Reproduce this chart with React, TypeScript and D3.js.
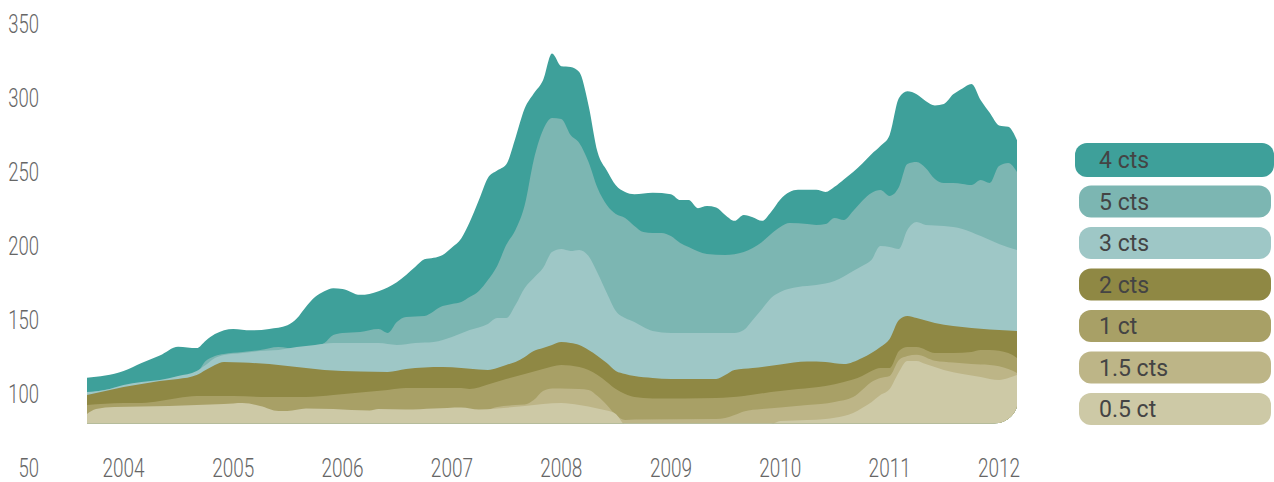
import React, { useEffect, useRef } from 'react';
import * as d3 from 'd3';

// axis labels
const yTickValues = [50, 100, 150, 200, 250, 300, 350];
const yearLabels = [2004, 2005, 2006, 2007, 2008, 2009, 2010, 2011, 2012];

// legend order = drawing order (back to front)
const seriesNames = ['4 cts', '5 cts', '3 cts', '2 cts', '1 ct', '1.5 cts', '0.5 ct'];
const seriesColors = ['#3ea09a', '#7cb6b2', '#9ec7c6', '#8f8844', '#a8a066', '#bdb587', '#cdc9a6'];

const cts4 = [
  ['2003-09', 111], ['2004-01', 115.5], ['2004-03', 121], ['2004-05', 126], ['2004-07', 132], ['2004-09', 131],
  ['2004-10', 136], ['2004-11', 140.5], ['2005-01', 144], ['2005-03', 143], ['2005-05', 144], ['2005-07', 146.5],
  ['2005-08', 151], ['2005-09', 159], ['2005-10', 165.5], ['2005-11', 169.5], ['2005-12', 171.5], ['2006-01', 171],
  ['2006-03', 167], ['2006-05', 169.5], ['2006-07', 175.5], ['2006-09', 186], ['2006-10', 191], ['2006-11', 192],
  ['2006-12', 194], ['2007-01', 199], ['2007-02', 205], ['2007-03', 216], ['2007-04', 231], ['2007-05', 246],
  ['2007-06', 251], ['2007-07', 255], ['2007-08', 273], ['2007-09', 293], ['2007-10', 303], ['2007-11', 312],
  ['2007-12', 330], ['2008-01', 321.5], ['2008-02', 321], ['2008-03', 317.5], ['2008-04', 295], ['2008-05', 263.5],
  ['2008-06', 251], ['2008-07', 241], ['2008-08', 236.5], ['2008-09', 235], ['2008-11', 236], ['2009-01', 235],
  ['2009-02', 231], ['2009-03', 231], ['2009-04', 225.5], ['2009-05', 227], ['2009-06', 226], ['2009-07', 221],
  ['2009-08', 217], ['2009-09', 221], ['2009-10', 219.5], ['2009-11', 217], ['2009-12', 223], ['2010-01', 231.5],
  ['2010-02', 236.5], ['2010-03', 238], ['2010-05', 238], ['2010-06', 236.5], ['2010-07', 240], ['2010-08', 245],
  ['2010-09', 250], ['2010-10', 255.5], ['2010-11', 262], ['2010-12', 267.5], ['2011-01', 275], ['2011-02', 300],
  ['2011-03', 304.5], ['2011-04', 302.5], ['2011-05', 298], ['2011-06', 295], ['2011-07', 296], ['2011-08', 302.5],
  ['2011-09', 306.5], ['2011-10', 309.5], ['2011-11', 298.5], ['2011-12', 290], ['2012-01', 281.5], ['2012-02', 280.5],
  ['2012-03', 271.5],
];

const cts5 = [
  ['2003-09', 100.5], ['2004-01', 105], ['2004-05', 108.5], ['2004-09', 114.5], ['2004-10', 122.3], ['2004-11', 125.7],
  ['2004-12', 127], ['2005-02', 128.4], ['2005-04', 129.7], ['2005-06', 131.7], ['2005-07', 131.1], ['2005-08', 130.4],
  ['2005-10', 132.4], ['2005-11', 134.4], ['2005-12', 139.8], ['2006-01', 141.2], ['2006-03', 141.9], ['2006-05', 143.9],
  ['2006-06', 141.2], ['2006-07', 148.6], ['2006-08', 152], ['2006-10', 152.7], ['2006-12', 159.4], ['2007-01', 160.8],
  ['2007-02', 162.1], ['2007-03', 165.5], ['2007-04', 169.6], ['2007-05', 177], ['2007-06', 186.5], ['2007-07', 200.6],
  ['2007-08', 210.8], ['2007-09', 227.7], ['2007-10', 258.1], ['2007-11', 278.4], ['2007-12', 286.5], ['2008-01', 285.8],
  ['2008-02', 275], ['2008-03', 269.6], ['2008-04', 256.7], ['2008-05', 239.2], ['2008-06', 227.7], ['2008-07', 221.6],
  ['2008-08', 218.9], ['2008-09', 213.5], ['2008-10', 209.4], ['2008-11', 208.8], ['2008-12', 208.8], ['2009-01', 206.7],
  ['2009-02', 202], ['2009-03', 199.3], ['2009-05', 194.6], ['2009-07', 193.9], ['2009-09', 195.9], ['2009-10', 198.6],
  ['2009-11', 202.7], ['2009-12', 208.1], ['2010-01', 212.8], ['2010-02', 215.5], ['2010-04', 214.8], ['2010-05', 214.2],
  ['2010-06', 214.8], ['2010-07', 218.9], ['2010-08', 217.5], ['2010-09', 223.6], ['2010-10', 230.4], ['2010-11', 235.8],
  ['2010-12', 237.8], ['2011-01', 233.8], ['2011-02', 239.8], ['2011-03', 255.4], ['2011-04', 256.7], ['2011-05', 252.7],
  ['2011-06', 245.2], ['2011-07', 242.5], ['2011-08', 242.5], ['2011-09', 241.9], ['2011-10', 241.2], ['2011-11', 244.6],
  ['2011-12', 242.5], ['2012-01', 254], ['2012-02', 256.1], ['2012-03', 250],
];

const cts3 = [
  ['2003-09', 101.3], ['2003-11', 102.7], ['2004-01', 106.1], ['2004-03', 108.1], ['2004-05', 109.4], ['2004-07', 112.1],
  ['2004-09', 115.5], ['2004-10', 119.6], ['2004-11', 124.3], ['2004-12', 126.3], ['2005-02', 127.7], ['2005-04', 129],
  ['2005-06', 129.7], ['2005-08', 131.7], ['2005-10', 133.1], ['2005-12', 134.4], ['2006-03', 134.4], ['2006-05', 134.4],
  ['2006-07', 133.1], ['2006-09', 134.4], ['2006-11', 135.1], ['2007-01', 138.5], ['2007-03', 143.2], ['2007-05', 147.3],
  ['2007-06', 151.3], ['2007-07', 151.3], ['2007-08', 160.1], ['2007-09', 171.6], ['2007-10', 178.4], ['2007-11', 185.1],
  ['2007-12', 195.9], ['2008-01', 197.9], ['2008-02', 196.6], ['2008-03', 197.3], ['2008-04', 193.2], ['2008-05', 181.7],
  ['2008-06', 168.2], ['2008-07', 156.1], ['2008-08', 151.3], ['2008-09', 148.6], ['2008-10', 145.2], ['2008-11', 142.5],
  ['2009-01', 141.2], ['2009-05', 141.2], ['2009-08', 141.2], ['2009-09', 143.2], ['2009-10', 150], ['2009-11', 157.4],
  ['2009-12', 164.8], ['2010-01', 168.9], ['2010-03', 172.3], ['2010-05', 173.6], ['2010-07', 176.3], ['2010-09', 183.1],
  ['2010-10', 186.5], ['2010-11', 190.5], ['2010-12', 200], ['2011-01', 199.3], ['2011-02', 198], ['2011-03', 210.8],
  ['2011-04', 216.2], ['2011-05', 214.2], ['2011-07', 213.5], ['2011-09', 211.5], ['2011-11', 206.7], ['2012-01', 201.3],
  ['2012-03', 197.3],
];

const cts2 = [
  ['2003-09', 99.3], ['2003-11', 102], ['2004-01', 104.7], ['2004-03', 106.7], ['2004-05', 108.8], ['2004-07', 110.1],
  ['2004-09', 112.8], ['2004-10', 116.2], ['2004-11', 119.6], ['2004-12', 121.6], ['2005-02', 121.3], ['2005-05', 120.2],
  ['2005-08', 118.2], ['2005-11', 116.2], ['2006-03', 115.2], ['2006-06', 114.9], ['2006-08', 116.9], ['2006-10', 117.9],
  ['2006-12', 118.2], ['2007-02', 117.5], ['2007-04', 116.5], ['2007-05', 116.2], ['2007-06', 117.5], ['2007-07', 119.6],
  ['2007-08', 121.6], ['2007-09', 125], ['2007-10', 129], ['2007-11', 131.1], ['2007-12', 133.1], ['2008-01', 135.1],
  ['2008-02', 134.4], ['2008-03', 133.1], ['2008-04', 129.7], ['2008-05', 125.7], ['2008-06', 120.9], ['2008-07', 115.5],
  ['2008-08', 113.5], ['2008-09', 112.1], ['2008-11', 110.8], ['2009-01', 110.1], ['2009-06', 110.1], ['2009-07', 112.8],
  ['2009-08', 116.2], ['2009-10', 117.5], ['2010-01', 119.9], ['2010-04', 121.9], ['2010-06', 121.6], ['2010-08', 120.2],
  ['2010-10', 124.3], ['2010-11', 127.7], ['2010-12', 131.7], ['2011-01', 137.2], ['2011-02', 150], ['2011-03', 152.7],
  ['2011-04', 151.3], ['2011-06', 148], ['2011-08', 145.9], ['2011-10', 144.6], ['2011-12', 143.6], ['2012-02', 142.9],
  ['2012-03', 142.5],
];

const ct1 = [
  ['2003-09', 92.5], ['2004-01', 93.9], ['2004-03', 93.9], ['2004-05', 95.2], ['2004-07', 97.3], ['2004-09', 98.6],
  ['2005-01', 98.6], ['2005-05', 97.9], ['2005-09', 97.9], ['2005-12', 99.3], ['2006-03', 101], ['2006-06', 102.7],
  ['2006-08', 104], ['2007-02', 104], ['2007-03', 103.3], ['2007-05', 106.4], ['2007-07', 110.1], ['2007-09', 113.5],
  ['2007-11', 116.9], ['2008-01', 119.6], ['2008-03', 118.2], ['2008-04', 116.2], ['2008-05', 112.8], ['2008-06', 108.1],
  ['2008-07', 103.3], ['2008-08', 100], ['2008-09', 97.9], ['2008-11', 96.9], ['2009-06', 97.3], ['2009-09', 98.6],
  ['2009-12', 101.3], ['2010-03', 103.3], ['2010-06', 105.4], ['2010-08', 108.1], ['2010-10', 112.1], ['2010-11', 115.5],
  ['2010-12', 117.5], ['2011-01', 117.5], ['2011-02', 129], ['2011-03', 131.7], ['2011-04', 131.7], ['2011-06', 127.7],
  ['2011-08', 127.7], ['2011-10', 128.4], ['2011-11', 129.7], ['2011-12', 129.7], ['2012-02', 127.7], ['2012-03', 124.3],
];

const cts15 = [
  ['2003-09', 85], ['2003-12', 89.5], ['2004-12', 91.5], ['2005-06', 87], ['2006-01', 88], ['2006-11', 88.5],
  ['2007-04', 88], ['2007-06', 91.2], ['2007-08', 92.5], ['2007-09', 92.9], ['2007-10', 95.9], ['2007-11', 102],
  ['2007-12', 103.7], ['2008-01', 103.7], ['2008-03', 103.3], ['2008-04', 102.7], ['2008-05', 98.6], ['2008-06', 92.5],
  ['2008-07', 85.8], ['2008-08', 82.4], ['2008-09', 82.7], ['2009-06', 83.1], ['2009-07', 83.8], ['2009-08', 85.8],
  ['2009-09', 88.2], ['2009-11', 89.8], ['2010-01', 90.9], ['2010-04', 92.5], ['2010-07', 94.6], ['2010-09', 97.9],
  ['2010-10', 102.7], ['2010-11', 108.1], ['2010-12', 110.8], ['2011-01', 112.1], ['2011-02', 122.9], ['2011-03', 125.6],
  ['2011-04', 126.6], ['2011-06', 122.5], ['2011-08', 121.3], ['2011-10', 120.2], ['2011-12', 119.6], ['2012-02', 116.9],
  ['2012-03', 114.2],
];

const ct05 = [
  ['2003-09', 86.5], ['2003-10', 89.8], ['2003-12', 91.2], ['2004-06', 91.9], ['2004-12', 93.2], ['2005-02', 93.9],
  ['2005-04', 91.9], ['2005-06', 88.5], ['2005-07', 88.5], ['2005-09', 90.2], ['2005-12', 89.8], ['2006-04', 88.8],
  ['2006-05', 89.8], ['2006-08', 89.5], ['2006-11', 90.2], ['2007-02', 90.9], ['2007-04', 89.5], ['2007-06', 90.2],
  ['2007-09', 91.9], ['2007-11', 93.2], ['2008-01', 93.9], ['2008-03', 92.5], ['2008-05', 90.2], ['2008-06', 88.8],
  ['2008-07', 86.5], ['2008-08', 79.4], ['2008-09', 79], ['2009-12', 79.7], ['2010-01', 81.7], ['2010-04', 82.4],
  ['2010-06', 83.1], ['2010-08', 85.1], ['2010-09', 87.1], ['2010-10', 90.5], ['2010-11', 94.5], ['2010-12', 99.3],
  ['2011-01', 103.4], ['2011-02', 114.9], ['2011-03', 122.3], ['2011-04', 122.3], ['2011-05', 120.2], ['2011-07', 116.2],
  ['2011-09', 113.5], ['2011-11', 111.5], ['2012-01', 109.4], ['2012-02', 110.8], ['2012-03', 112.8],
];

const seriesData = [cts4, cts5, cts3, cts2, ct1, cts15, ct05];

const baseValue = 80;
const axisFont = 'Roboto, sans-serif';

const App = () => {
  const svgRef = useRef(null);

  useEffect(() => {
    const svg = d3.select(svgRef.current);
    svg.selectAll('*').remove();

    const parse = d3.timeParse('%Y-%m');
    const x = d3.scaleTime().domain([parse('2003-09'), parse('2012-03')]).range([87, 1017]);
    const y = d3.scaleLinear().domain([50, 350]).range([468, 24]);

    // rounded bottom-right corner of the plot
    svg.append('defs').append('clipPath').attr('id', 'plot-clip')
      .append('rect')
      .attr('x', 40)
      .attr('y', 0)
      .attr('width', x.range()[1] + 1 - 40)
      .attr('height', y(baseValue))
      .attr('rx', 24);

    const area = d3.area()
      .x(d => x(d.date))
      .y0(y(baseValue))
      .y1(d => y(d.value))
      .curve(d3.curveMonotoneX);

    const plot = svg.append('g').attr('clip-path', 'url(#plot-clip)');
    seriesData.forEach((pts, i) => {
      plot.append('path')
        .datum(pts.map(([d, v]) => ({ date: parse(d), value: v })))
        .attr('fill', seriesColors[i])
        .attr('d', area);
    });

    // axis labels use a squeezed light face to mimic the condensed original
    svg.append('g').selectAll('text')
      .data(yTickValues)
      .enter()
      .append('text')
      .attr('transform', d => `translate(39,${y(d)}) scale(0.74,1)`)
      .attr('dy', '0.36em')
      .attr('text-anchor', 'end')
      .attr('font-family', axisFont)
      .attr('font-weight', 300)
      .attr('font-size', 25)
      .attr('fill', '#666')
      .text(d => d);

    svg.append('g').selectAll('text')
      .data(yearLabels)
      .enter()
      .append('text')
      .attr('transform', d => `translate(${x(new Date(d, 0, 1))},468) scale(0.76,1)`)
      .attr('dy', '0.36em')
      .attr('text-anchor', 'middle')
      .attr('font-family', axisFont)
      .attr('font-weight', 300)
      .attr('font-size', 25)
      .attr('fill', '#666')
      .text(d => d);

    // legend
    const ly = d3.scalePoint().domain(seriesNames).range([160, 409]);
    const legend = svg.append('g').selectAll('g')
      .data(seriesNames)
      .enter()
      .append('g');

    legend.append('rect')
      .attr('x', (d, i) => (i === 0 ? 1075 : 1079))
      .attr('y', (d, i) => ly(d) - (i === 0 ? 17 : 16))
      .attr('width', (d, i) => (i === 0 ? 199 : 192))
      .attr('height', (d, i) => (i === 0 ? 34 : 32))
      .attr('rx', 12)
      .attr('fill', (d, i) => seriesColors[i]);

    legend.append('text')
      .attr('x', 1099)
      .attr('y', d => ly(d))
      .attr('dy', '0.36em')
      .attr('font-family', axisFont)
      .attr('font-size', 23)
      .attr('fill', '#444')
      .text(d => d);
  }, []);

  return (
    <svg ref={svgRef} width="1274" height="482" style={{ position: 'absolute', left: 0, top: 0 }}></svg>
  );
};

export default App;
